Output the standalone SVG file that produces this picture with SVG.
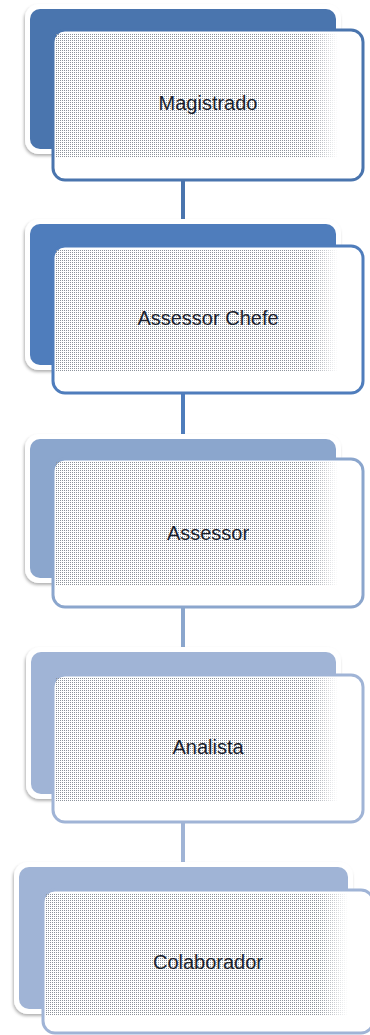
<svg xmlns="http://www.w3.org/2000/svg" width="370" height="1035" viewBox="0 0 370 1035">
<style>
.halo{fill:#fff;filter:url(#sh)}
.front{fill:#fff;stroke-width:3}
.dots{fill:url(#dots);mask:url(#fade)}
.lbl{font-family:"Liberation Sans",Arial,sans-serif;font-size:20px;fill:#1a1e2c;text-anchor:middle}
.c1{fill:#4a75ae}.s1{stroke:#4a75ae}
.c2{fill:#4f7dbc}.s2{stroke:#4f7dbc}
.c3{fill:#8ba6cd}.s3{stroke:#8ba6cd}
.c4{fill:#a0b4d6}.s4{stroke:#a0b4d6}
.conn{stroke-width:4;fill:none}
</style>
<defs>
<pattern id="dots" width="2" height="2" patternUnits="userSpaceOnUse">
<rect x="0" y="0" width="1" height="1" fill="#8c929b"/>
</pattern>
<linearGradient id="gh" x1="0" y1="0" x2="1" y2="0">
<stop offset="0" stop-color="#fff"/>
<stop offset="0.9" stop-color="#fff"/>
<stop offset="1" stop-color="#000"/>
</linearGradient>
<mask id="fade" maskContentUnits="objectBoundingBox">
<rect x="0" y="0" width="1" height="1" fill="url(#gh)"/>
</mask>
<filter id="sh" x="-10%" y="-10%" width="120%" height="130%">
<feDropShadow dx="-1" dy="2" stdDeviation="1.5" flood-color="#000" flood-opacity="0.3"/>
</filter>
</defs>
<g id="connectors">
<line class="conn s1" x1="183" y1="180" x2="183" y2="226"/>
<line class="conn s2" x1="183" y1="393" x2="183" y2="441"/>
<line class="conn s3" x1="183" y1="607" x2="183" y2="654"/>
<line class="conn s4" x1="183" y1="822" x2="183" y2="869"/>
</g>
<g id="n1">
<rect class="halo" x="25" y="4" width="316" height="150" rx="14"/>
<rect class="c1" x="30" y="9" width="306" height="140" rx="10"/>
<rect class="front s1" x="53" y="30" width="310" height="150" rx="12"/>
<rect class="dots" x="56" y="33" width="282" height="125"/>
<text class="lbl" x="208" y="110">Magistrado</text>
</g>
<g id="n2">
<rect class="halo" x="25" y="219" width="316" height="151" rx="14"/>
<rect class="c2" x="30" y="224" width="306" height="141" rx="10"/>
<rect class="front s2" x="53" y="246" width="310" height="147" rx="12"/>
<rect class="dots" x="56" y="249" width="282" height="123"/>
<text class="lbl" x="208" y="325">Assessor Chefe</text>
</g>
<g id="n3">
<rect class="halo" x="25" y="434" width="316" height="149" rx="14"/>
<rect class="c3" x="30" y="439" width="306" height="139" rx="10"/>
<rect class="front s3" x="53" y="459" width="310" height="148" rx="12"/>
<rect class="dots" x="56" y="462" width="282" height="124"/>
<text class="lbl" x="208" y="540">Assessor</text>
</g>
<g id="n4">
<rect class="halo" x="26" y="647" width="315" height="152" rx="14"/>
<rect class="c4" x="31" y="652" width="305" height="142" rx="10"/>
<rect class="front s4" x="53" y="675" width="310" height="147" rx="12"/>
<rect class="dots" x="56" y="678" width="282" height="123"/>
<text class="lbl" x="208" y="754">Analista</text>
</g>
<g id="n5">
<rect class="halo" x="14" y="862" width="339" height="152" rx="14"/>
<rect class="c4" x="19" y="867" width="329" height="142" rx="10"/>
<rect class="front s4" x="43" y="890" width="330" height="143" rx="12"/>
<rect class="dots" x="46" y="893" width="302" height="122"/>
<text class="lbl" x="208" y="969">Colaborador</text>
</g>
</svg>
